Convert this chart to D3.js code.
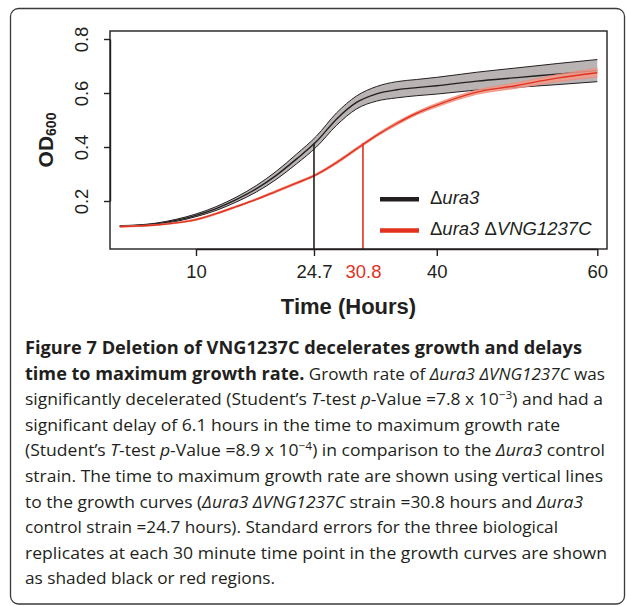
<!DOCTYPE html>
<html>
<head>
<meta charset="utf-8">
<script src="https://cdn.jsdelivr.net/npm/d3@7"></script>
<style>
  body { margin: 0; background: #fff; }
</style>
</head>
<body>
<div id="chart"></div>
<script>
// Time points (hours)
var time = [0.5, 2.5, 5, 7.5, 10, 12.5, 15, 17.5, 20, 22.5, 25, 27.5, 30, 32.5, 35, 37.5, 40, 45, 50, 55, 60];

// Δura3 control: mean OD600 and standard error
var uraMean = [0.107, 0.109, 0.115, 0.128, 0.147, 0.172, 0.205, 0.245, 0.295, 0.355, 0.420, 0.503, 0.565, 0.597, 0.612, 0.620, 0.627, 0.644, 0.657, 0.670, 0.683];
var uraSE   = [0.002, 0.002, 0.003, 0.004, 0.005, 0.007, 0.009, 0.012, 0.015, 0.018, 0.020, 0.023, 0.024, 0.027, 0.030, 0.030, 0.031, 0.033, 0.036, 0.039, 0.041];

// Δura3 ΔVNG1237C: mean OD600 and standard error
var delMean = [0.105, 0.107, 0.111, 0.119, 0.131, 0.153, 0.179, 0.206, 0.236, 0.266, 0.298, 0.342, 0.393, 0.443, 0.487, 0.525, 0.555, 0.603, 0.628, 0.655, 0.675];
var delSE   = [0.002, 0.002, 0.002, 0.002, 0.003, 0.003, 0.003, 0.003, 0.004, 0.004, 0.004, 0.005, 0.005, 0.005, 0.006, 0.006, 0.007, 0.008, 0.010, 0.013, 0.016];

// time to maximum growth rate (vertical lines)
var maxRateTime = [24.7, 30.8];
var maxRateOD = [0.414, 0.414];

// tick labels
var xTicks = [10, 24.7, 30.8, 40, 60];
var yTicks = [0.2, 0.4, 0.6, 0.8];

var w = 627;
var h = 606;
var red = "#e2321e";
var ink = "#231f20";

var svg = d3.select("#chart")
  .append("svg")
  .attr("width", w)
  .attr("height", h);

// rounded figure frame
svg.append("rect")
  .attr("x", 10.5).attr("y", 8.5)
  .attr("width", 614).attr("height", 595.5)
  .attr("rx", 8)
  .attr("fill", "none")
  .attr("stroke", "#3a3a3a")
  .attr("stroke-width", 1.3);

// scales
var xScale = d3.scaleLinear().domain([10, 60]).range([196, 597.3]);
var yScale = d3.scaleLinear().domain([0.2, 0.8]).range([201, 39]);

var plot = { left: 110, top: 31, right: 607, bottom: 249 };

// build point lists
function rows(mean, se) {
  return time.map(function(t, i) { return { t: t, m: mean[i], s: se[i] }; });
}
var ura = rows(uraMean, uraSE);
var del = rows(delMean, delSE);

var curve = d3.curveMonotoneX;
var band = d3.area().curve(curve)
  .x(d => xScale(d.t))
  .y0(d => yScale(d.m - d.s))
  .y1(d => yScale(d.m + d.s));
var upper = d3.line().curve(curve).x(d => xScale(d.t)).y(d => yScale(d.m + d.s));
var lower = d3.line().curve(curve).x(d => xScale(d.t)).y(d => yScale(d.m - d.s));
var mid = d3.line().curve(curve).x(d => xScale(d.t)).y(d => yScale(d.m));

// Δura3 band + line
svg.append("path").datum(ura).attr("d", band).attr("fill", "#b9b3b3");
svg.append("path").datum(ura).attr("d", upper).attr("fill", "none").attr("stroke", ink).attr("stroke-width", 1);
svg.append("path").datum(ura).attr("d", lower).attr("fill", "none").attr("stroke", ink).attr("stroke-width", 1);
svg.append("path").datum(ura).attr("d", mid).attr("fill", "none").attr("stroke", ink).attr("stroke-width", 1.4);

// Δura3 ΔVNG1237C band + line
svg.append("path").datum(del).attr("d", band).attr("fill", "#f19a8a").attr("fill-opacity", 0.85);
svg.append("path").datum(del).attr("d", upper).attr("fill", "none").attr("stroke", "#ef8a78").attr("stroke-width", 0.8);
svg.append("path").datum(del).attr("d", lower).attr("fill", "none").attr("stroke", "#ef8a78").attr("stroke-width", 0.8);
svg.append("path").datum(del).attr("d", mid).attr("fill", "none").attr("stroke", red).attr("stroke-width", 1.4);

// vertical lines at time to maximum growth rate
svg.selectAll(".vline")
  .data(maxRateTime)
  .enter().append("line")
  .attr("class", "vline")
  .attr("x1", d => xScale(d)).attr("x2", d => xScale(d))
  .attr("y1", plot.bottom)
  .attr("y2", (d, i) => yScale(maxRateOD[i]))
  .attr("stroke", (d, i) => i === 0 ? ink : red)
  .attr("stroke-width", 1.6);

// plot box
svg.append("rect")
  .attr("x", plot.left).attr("y", plot.top)
  .attr("width", plot.right - plot.left).attr("height", plot.bottom - plot.top)
  .attr("fill", "none").attr("stroke", ink).attr("stroke-width", 1.4);

// x axis
var xAxis = d3.axisBottom(xScale)
  .tickValues(xTicks)
  .tickSize(7)
  .tickSizeOuter(0)
  .tickPadding(9)
  .tickFormat(d => String(d));
var gx = svg.append("g")
  .attr("transform", "translate(0," + plot.bottom + ")")
  .call(xAxis);
gx.select(".domain").attr("stroke", ink).attr("stroke-width", 1.4);
gx.selectAll(".tick line").attr("stroke", ink).attr("stroke-width", 1.4)
  .attr("stroke-opacity", d => d === 30.8 ? 0 : 1);
gx.selectAll(".tick text")
  .attr("font-family", "'Liberation Sans', Arial, sans-serif")
  .attr("font-size", 18.5)
  .attr("fill", d => d === 30.8 ? red : ink);

// y axis
var yAxis = d3.axisLeft(yScale)
  .tickValues(yTicks)
  .tickSize(6)
  .tickSizeOuter(0)
  .tickFormat(d3.format(".1f"));
var gy = svg.append("g")
  .attr("transform", "translate(" + plot.left + ",0)")
  .call(yAxis);
gy.select(".domain").attr("stroke", ink).attr("stroke-width", 1.4);
gy.selectAll(".tick line").attr("stroke", ink).attr("stroke-width", 1.4);
gy.selectAll(".tick text")
  .attr("x", 0).attr("y", 0).attr("dy", 0)
  .attr("transform", "translate(-21.7,0) rotate(-90)")
  .attr("text-anchor", "middle")
  .attr("font-family", "'Liberation Sans', Arial, sans-serif")
  .attr("font-size", 18.5)
  .attr("fill", ink);

// axis titles
svg.append("text")
  .attr("x", 348.5).attr("y", 314)
  .attr("text-anchor", "middle")
  .attr("font-family", "'Liberation Sans', Arial, sans-serif")
  .attr("font-weight", "bold")
  .attr("font-size", 22)
  .attr("fill", ink)
  .text("Time (Hours)");

var yTitle = svg.append("text")
  .attr("transform", "translate(53.3,140) rotate(-90)")
  .attr("text-anchor", "middle")
  .attr("font-family", "'Liberation Sans', Arial, sans-serif")
  .attr("font-weight", "bold")
  .attr("fill", ink);
yTitle.append("tspan").attr("font-size", 21).text("OD");
yTitle.append("tspan").attr("font-size", 14).attr("dy", 3).text("600");

// legend
var legendNames = [["ura3", ""], ["ura3 ", "VNG1237C"]];
var legendColors = [ink, red];
var legendY = [199.3, 230.5];
legendNames.forEach(function(parts, i) {
  svg.append("line")
    .attr("x1", 380).attr("x2", 419)
    .attr("y1", legendY[i]).attr("y2", legendY[i])
    .attr("stroke", legendColors[i]).attr("stroke-width", 4.5);
  var t = svg.append("text")
    .attr("x", 430).attr("y", legendY[i] + 4.5)
    .attr("font-family", "'Liberation Sans', Arial, sans-serif")
    .attr("font-size", 18.5)
    .attr("fill", ink);
  t.append("tspan").text("Δ");
  t.append("tspan").attr("font-style", "italic").text(parts[0]);
  if (parts[1]) {
    t.append("tspan").text("Δ");
    t.append("tspan").attr("font-style", "italic").text(parts[1]);
  }
});

// caption: each line is a list of [text, style]
var caption = [
  [["Figure 7 Deletion of VNG1237C decelerates growth and delays", "b"]],
  [["time to maximum growth rate.", "b"], [" Growth rate of ", ""], ["Δura3 ΔVNG1237C", "i"], [" was", ""]],
  [["significantly decelerated (Student\u2019s ", ""], ["T", "i"], ["-test ", ""], ["p", "i"], ["-Value =7.8 x 10", ""], ["\u22123", "sup"], [") and had a", ""]],
  [["significant delay of 6.1 hours in the time to maximum growth rate", ""]],
  [["(Student\u2019s ", ""], ["T", "i"], ["-test ", ""], ["p", "i"], ["-Value =8.9 x 10", ""], ["\u22124", "sup"], [") in comparison to the ", ""], ["Δura3", "i"], [" control", ""]],
  [["strain. The time to maximum growth rate are shown using vertical lines", ""]],
  [["to the growth curves (", ""], ["Δura3 ΔVNG1237C", "i"], [" strain =30.8 hours and ", ""], ["Δura3", "i"]],
  [["control strain =24.7 hours). Standard errors for the three biological", ""]],
  [["replicates at each 30 minute time point in the growth curves are shown", ""]],
  [["as shaded black or red regions.", ""]]
];
var captionRight = [582, 605, 603, 560, 605, 603, 583, 558, 607, 275];

caption.forEach(function(line, i) {
  var t = svg.append("text")
    .attr("x", 25)
    .attr("y", 354 + i * 25.6)
    .attr("font-family", "'Open Sans', 'Noto Sans', sans-serif")
    .attr("font-size", 17)
    .attr("fill", ink)
    .attr("textLength", captionRight[i] - 25)
    .attr("lengthAdjust", "spacingAndGlyphs");
  var raised = false;
  line.forEach(function(seg) {
    var s = t.append("tspan").text(seg[0]);
    if (seg[1] === "b") s.attr("font-weight", "bold").attr("font-size", 18);
    if (seg[1] === "i") s.attr("font-style", "italic");
    if (seg[1] === "sup") { s.attr("font-size", 11.5).attr("dy", -6.5); raised = true; }
    else if (raised) { s.attr("dy", 6.5); raised = false; }
  });
});
</script>
</body>
</html>
